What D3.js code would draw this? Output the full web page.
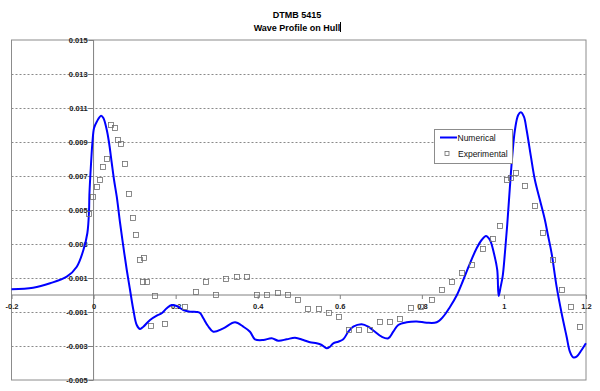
<!DOCTYPE html>
<html>
<head>
<meta charset="utf-8">
<script src="https://cdn.jsdelivr.net/npm/d3@7/dist/d3.min.js"></script>
<style>
  html, body { margin: 0; padding: 0; background: #fff; }
  svg { display: block; font-family: "Liberation Sans", Arial, sans-serif; }
</style>
</head>
<body>
<svg id="chart" width="600" height="391"></svg>
<script>
// ---- Data ----
const titleLines = ["DTMB 5415", "Wave Profile on Hull"];
const seriesNames = ["Numerical", "Experimental"];

const xTicks = [-0.2, 0, 0.2, 0.4, 0.6, 0.8, 1, 1.2];
const xTickLabels = ["-0.2", "0", "0.2", "0.4", "0.6", "0.8", "1", "1.2"];
const yTicks = [0.015, 0.013, 0.011, 0.009, 0.007, 0.005, 0.003, 0.001, -0.001, -0.003, -0.005];
const yTickLabels = ["0.015", "0.013", "0.011", "0.009", "0.007", "0.005", "0.003", "0.001", "-0.001", "-0.003", "-0.005"];

// Numerical wave profile (x/L, wave height)
const numX = [-0.2, -0.1474, -0.1060, -0.0653, -0.0409, -0.0248, -0.0151, -0.0110, -0.0102, -0.0061,
  -0.0029, 0.0012, 0.0078, 0.0183, 0.0239, 0.0322, 0.0378, 0.0443, 0.0499, 0.0565,
  0.0646, 0.0726, 0.0809, 0.0889, 0.0970, 0.1052, 0.1133, 0.1213, 0.1376, 0.1540,
  0.1661, 0.1783, 0.1905, 0.2027, 0.2188, 0.2351, 0.2514, 0.2594, 0.2675, 0.2789,
  0.2918, 0.3162, 0.3447, 0.3649, 0.3812, 0.3934, 0.4136, 0.4341, 0.4502, 0.4707,
  0.4909, 0.5111, 0.5274, 0.5437, 0.5559, 0.5681, 0.5761, 0.5842, 0.5963, 0.6085,
  0.6207, 0.6329, 0.6534, 0.6694, 0.6857, 0.7021, 0.7182, 0.7303, 0.7425, 0.7630,
  0.7873, 0.8117, 0.8361, 0.8521, 0.8685, 0.8848, 0.9009, 0.9172, 0.9335, 0.9457,
  0.9562, 0.9659, 0.9756, 0.9837, 0.9871, 0.9920, 0.9968, 1.0024, 1.0080, 1.0146,
  1.0202, 1.0268, 1.0348, 1.0414, 1.0487, 1.0553, 1.0658, 1.0755, 1.0877, 1.0999,
  1.1072, 1.1162, 1.1284, 1.1406, 1.1528, 1.1608, 1.1688, 1.1771, 1.1893, 1.1998];
const numY = [0.000335, 0.000429, 0.000688, 0.001076, 0.001665, 0.002647, 0.003647, 0.005, 0.005882, 0.007765,
  0.008941, 0.009824, 0.010194, 0.010547, 0.010412, 0.009706, 0.008941, 0.007765, 0.006765, 0.005782,
  0.004235, 0.002841, 0.001471, 0.000294, -0.000882, -0.001765, -0.002, -0.001865, -0.001471, -0.001218,
  -0.001076, -0.000782, -0.000588, -0.000647, -0.000882, -0.000982, -0.001, -0.001059, -0.001371, -0.001824,
  -0.002159, -0.001959, -0.001606, -0.001865, -0.002159, -0.002606, -0.002647, -0.002547, -0.002688, -0.002606,
  -0.002512, -0.002647, -0.002782, -0.002841, -0.002941, -0.003135, -0.003041, -0.002841, -0.002747, -0.002606,
  -0.002159, -0.001865, -0.001724, -0.001865, -0.002159, -0.002453, -0.002547, -0.002159, -0.001765, -0.001606,
  -0.001559, -0.001629, -0.001606, -0.001276, -0.000706, -0.00003, 0.000882, 0.001865, 0.002747, 0.003235,
  0.003471, 0.003235, 0.002453, 0.001471, -0.000059, 0.000488, 0.001076, 0.002471, 0.004118, 0.006371,
  0.008135, 0.009706, 0.010588, 0.010747, 0.010488, 0.009706, 0.008135, 0.006765, 0.005588, 0.004412,
  0.003529, 0.002453, 0.000488, -0.001076, -0.002453, -0.003335, -0.003665, -0.003629, -0.003235, -0.002841];

// Experimental measurements
const expX = [-0.0102, -0.0019, 0.0078, 0.0158, 0.0239, 0.0336, 0.0426, 0.0516, 0.0604, 0.0677,
  0.0775, 0.0872, 0.0955, 0.1035, 0.1133, 0.1238, 0.1213, 0.1311, 0.1401, 0.1491,
  0.1742, 0.2236, 0.2490, 0.2741, 0.2992, 0.3235, 0.3488, 0.3739, 0.3983, 0.4234,
  0.4487, 0.4743, 0.4989, 0.5233, 0.5488, 0.5737, 0.5988, 0.6229, 0.6475, 0.6731,
  0.6984, 0.7235, 0.7466, 0.7727, 0.7990, 0.8239, 0.8490, 0.8733, 0.8984, 0.9228,
  0.9481, 0.9725, 0.9898, 1.0080, 1.0163, 1.0300, 1.0519, 1.0748, 1.0957, 1.1186,
  1.1420, 1.1625, 1.1844];
const expY = [0.00476, 0.00575, 0.00634, 0.00675, 0.00751, 0.00802, 0.0100, 0.00981, 0.00914, 0.00886,
  0.00771, 0.00592, 0.00451, 0.00351, 0.00204, 0.00219, 0.00076, 0.00076, -0.00184, -0.00006,
  -0.00171, -0.00069, 0.00016, 0.00076, -0.00002, 0.00092, 0.00104, 0.00104, -0.00002, -0.00002,
  0.0001, 0.0, -0.00029, -0.00085, -0.00085, -0.00106, -0.00131, -0.00204, -0.00204, -0.00205,
  -0.00156, -0.00156, -0.00143, -0.00074, -0.00071, -0.00029, 0.00028, 0.00076, 0.00128, 0.00178,
  0.00272, 0.00328, 0.00406, 0.00678, 0.00686, 0.00718, 0.00641, 0.00524, 0.00363, 0.00204,
  0.00028, -0.00069, -0.0019];

// ---- Drawing ----
const svg = d3.select("#chart");
const x = d3.scaleLinear().domain([-0.2, 1.2]).range([11.5, 586]);
const y = d3.scaleLinear().domain([-0.005, 0.015]).range([380, 40]);

// title
svg.append("text").attr("x", 297).attr("y", 18).attr("text-anchor", "middle")
  .attr("font-size", "9px").attr("font-weight", "bold").attr("fill", "#000").text(titleLines[0]);
svg.append("text").attr("x", 297).attr("y", 30.5).attr("text-anchor", "middle")
  .attr("font-size", "9px").attr("font-weight", "bold").attr("fill", "#000").text(titleLines[1]);
// text cursor after title
svg.append("line").attr("x1", 340.5).attr("x2", 340.5).attr("y1", 22).attr("y2", 32)
  .attr("stroke", "#000").attr("stroke-width", 1);

// gridlines
svg.append("g").selectAll("line").data(yTicks.filter(v => v < 0.015 && v > -0.005)).join("line")
  .attr("x1", x(-0.2)).attr("x2", x(1.2))
  .attr("y1", d => Math.round(y(d)) + 0.5).attr("y2", d => Math.round(y(d)) + 0.5)
  .attr("stroke", "#8a8a8a").attr("stroke-width", 1).attr("stroke-dasharray", "2,2");

// frame
svg.append("rect").attr("x", x(-0.2)).attr("y", y(0.015))
  .attr("width", x(1.2) - x(-0.2)).attr("height", y(-0.005) - y(0.015))
  .attr("fill", "none").attr("stroke", "#8c8c8c").attr("stroke-width", 1);

// axis lines through origin
svg.append("line").attr("x1", x(-0.2)).attr("x2", x(1.2)).attr("y1", y(0)).attr("y2", y(0))
  .attr("stroke", "#808080").attr("stroke-width", 1);
svg.append("line").attr("x1", x(0)).attr("x2", x(0)).attr("y1", y(0.015)).attr("y2", y(-0.005))
  .attr("stroke", "#808080").attr("stroke-width", 1);

// y axis at x=0
const yAxis = d3.axisLeft(y).tickValues(yTicks).tickSize(5).tickPadding(1)
  .tickFormat((d, i) => yTickLabels[i]);
const gy = svg.append("g").attr("transform", `translate(${x(0)},0)`).call(yAxis);
gy.select(".domain").remove();
gy.selectAll(".tick line").attr("stroke", "#808080");
gy.selectAll(".tick text").attr("font-size", "7.5px").attr("font-weight", "bold")
  .attr("fill", "#222").attr("font-family", "Liberation Sans, Arial, sans-serif");

// x axis at y=0
const xAxis = d3.axisBottom(x).tickValues(xTicks).tickSize(4).tickPadding(5)
  .tickFormat((d, i) => xTickLabels[i]);
const gx = svg.append("g").attr("transform", `translate(0,${y(0)})`).call(xAxis);
gx.select(".domain").remove();
gx.selectAll(".tick line").attr("stroke", "#808080");
gx.selectAll(".tick text").attr("font-size", "7.5px").attr("font-weight", "bold")
  .attr("fill", "#222").attr("font-family", "Liberation Sans, Arial, sans-serif");

// numerical line
const numData = numX.map((v, i) => [v, numY[i]]);
const line = d3.line().x(d => x(d[0])).y(d => y(d[1])).curve(d3.curveCatmullRom.alpha(0.5));
svg.append("path").datum(numData).attr("d", line)
  .attr("fill", "none").attr("stroke", "#0000ff").attr("stroke-width", 2)
  .attr("stroke-linejoin", "round");

// experimental points
const expData = expX.map((v, i) => [v, expY[i]]);
svg.append("g").selectAll("rect").data(expData).join("rect")
  .attr("x", d => Math.round(x(d[0])) - 2.5).attr("y", d => Math.round(y(d[1])) - 2.5)
  .attr("width", 5).attr("height", 5)
  .attr("fill", "none").attr("stroke", "#6e6e6e").attr("stroke-width", 0.8);

// legend
const lg = svg.append("g");
lg.append("rect").attr("x", 434.5).attr("y", 129.5).attr("width", 78).attr("height", 34)
  .attr("fill", "#fff").attr("stroke", "#8c8c8c").attr("stroke-width", 1);
lg.append("line").attr("x1", 440).attr("x2", 457).attr("y1", 137.5).attr("y2", 137.5)
  .attr("stroke", "#0000ff").attr("stroke-width", 2);
lg.append("text").attr("x", 457.5).attr("y", 140.5).attr("font-size", "8.5px").attr("fill", "#111")
  .text(seriesNames[0]);
lg.append("rect").attr("x", 445).attr("y", 151.5).attr("width", 4).attr("height", 4)
  .attr("fill", "none").attr("stroke", "#6e6e6e").attr("stroke-width", 0.8);
lg.append("text").attr("x", 458).attr("y", 157).attr("font-size", "8.5px").attr("fill", "#111")
  .text(seriesNames[1]);
</script>
</body>
</html>
